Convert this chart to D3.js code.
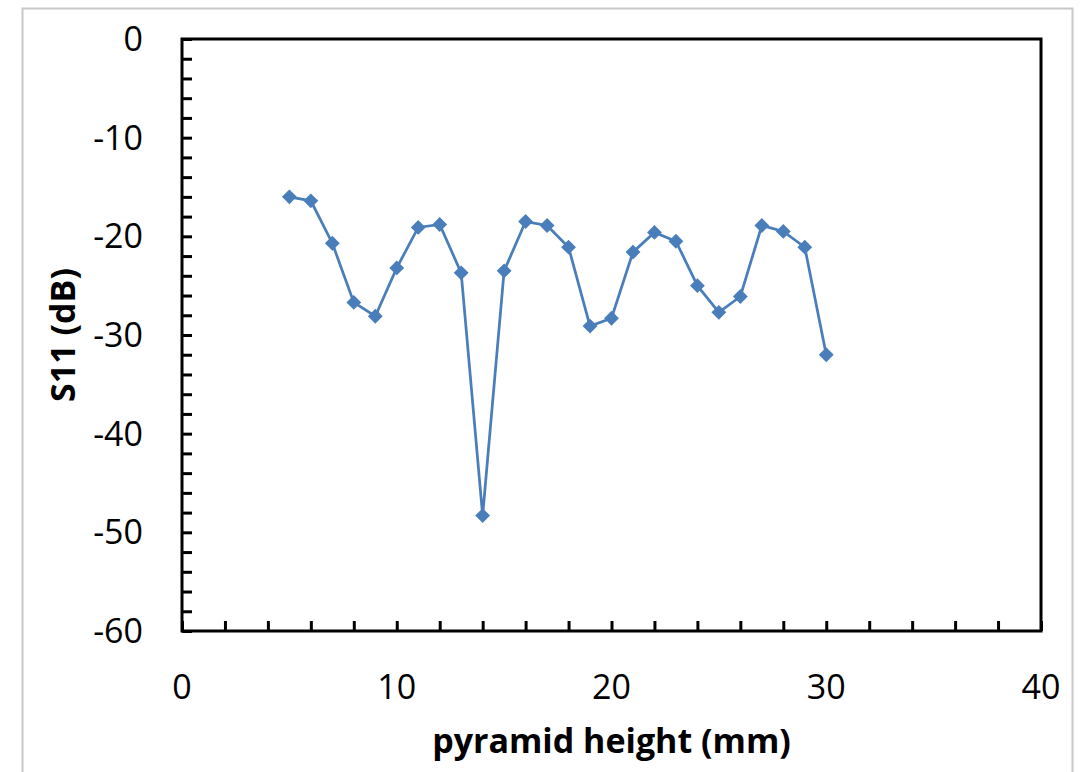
<!DOCTYPE html>
<html>
<head>
<meta charset="utf-8">
<script src="https://d3js.org/d3.v7.min.js"></script>
<style>
  body { margin: 0; background: #fff; }
  svg { display: block; }
</style>
</head>
<body>
<div id="chart"></div>
<script>
/* Data */
var heights = [5, 6, 7, 8, 9, 10, 11, 12, 13, 14, 15, 16, 17, 18, 19, 20, 21, 22, 23, 24, 25, 26, 27, 28, 29, 30];
var s11 = [-16.0, -16.4, -20.7, -26.7, -28.1, -23.2, -19.1, -18.8, -23.7, -48.3, -23.5, -18.5, -18.9,
           -21.1, -29.1, -28.3, -21.6, -19.6, -20.5, -25.0, -27.7, -26.1, -18.9, -19.5, -21.1, -32.0];
var xTickLabels = [0, 10, 20, 30, 40];
var yTickLabels = [0, -10, -20, -30, -40, -50, -60];

var fontFamily = "'Open Sans', 'Liberation Sans', sans-serif";

/* Overall SVG Container */
var width = 1085, height = 772;
var margin = { top: 39, left: 182, right: 44, bottom: 141 };

var svg = d3.select("#chart")
    .append("svg")
    .attr("width", width)
    .attr("height", height);

/* Light chart-area border */
svg.append("rect")
    .attr("x", 22.5)
    .attr("y", 8.5)
    .attr("width", 1050)
    .attr("height", 800)
    .attr("fill", "none")
    .attr("stroke", "#c8c8c8")
    .attr("stroke-width", 2);

var x = d3.scaleLinear()
    .domain([0, 40])
    .range([margin.left, width - margin.right]);

var y = d3.scaleLinear()
    .domain([-60, 0])
    .range([height - margin.bottom, margin.top]);

/* Ticks every 2 units, pointing inward */
var xAxis = svg.append("g")
    .attr("transform", "translate(0," + y(-60) + ")")
    .call(d3.axisTop(x).tickValues(d3.range(0, 41, 2)).tickSize(10).tickFormat(""));

var yAxis = svg.append("g")
    .attr("transform", "translate(" + x(0) + ",0)")
    .call(d3.axisRight(y).tickValues(d3.range(-60, 1, 2)).tickSize(10).tickFormat(""));

[xAxis, yAxis].forEach(function(g) {
    g.select(".domain").remove();
    g.selectAll(".tick line").attr("stroke", "#000").attr("stroke-width", 3);
});

/* Plot frame */
svg.append("rect")
    .attr("x", x(0))
    .attr("y", y(0))
    .attr("width", x(40) - x(0))
    .attr("height", y(-60) - y(0))
    .attr("fill", "none")
    .attr("stroke", "#000")
    .attr("stroke-width", 3);

/* Tick labels */
svg.append("g").selectAll("text")
    .data(xTickLabels)
    .enter().append("text")
    .attr("x", function(d) { return x(d); })
    .attr("y", y(-60) + 68)
    .attr("text-anchor", "middle")
    .attr("font-family", fontFamily)
    .attr("font-size", 34)
    .attr("fill", "#000")
    .text(function(d) { return d; });

svg.append("g").selectAll("text")
    .data(yTickLabels)
    .enter().append("text")
    .attr("x", 143)
    .attr("y", function(d) { return y(d) + 12; })
    .attr("text-anchor", "end")
    .attr("font-family", fontFamily)
    .attr("font-size", 34)
    .attr("fill", "#000")
    .text(function(d) { return d; });

/* Axis titles */
svg.append("text")
    .attr("x", (x(0) + x(40)) / 2)
    .attr("y", 753)
    .attr("text-anchor", "middle")
    .attr("font-family", fontFamily)
    .attr("font-weight", "bold")
    .attr("font-size", 34)
    .text("pyramid height (mm)");

svg.append("text")
    .attr("transform", "translate(75," + ((y(0) + y(-60)) / 2) + ") rotate(-90)")
    .attr("text-anchor", "middle")
    .attr("font-family", fontFamily)
    .attr("font-weight", "bold")
    .attr("font-size", 34)
    .text("S11 (dB)");

/* Series */
var points = heights.map(function(h, i) { return { x: h, y: s11[i] }; });

var line = d3.line()
    .x(function(d) { return x(d.x); })
    .y(function(d) { return y(d.y); });

svg.append("path")
    .datum(points)
    .attr("d", line)
    .attr("fill", "none")
    .attr("stroke", "#4a7ebb")
    .attr("stroke-width", 2.75);

svg.append("g").selectAll("path")
    .data(points)
    .enter().append("path")
    .attr("d", d3.symbol().type(d3.symbolDiamond2).size(140))
    .attr("transform", function(d) { return "translate(" + x(d.x) + "," + y(d.y) + ")"; })
    .attr("fill", "#4a7ebb");
</script>
</body>
</html>
